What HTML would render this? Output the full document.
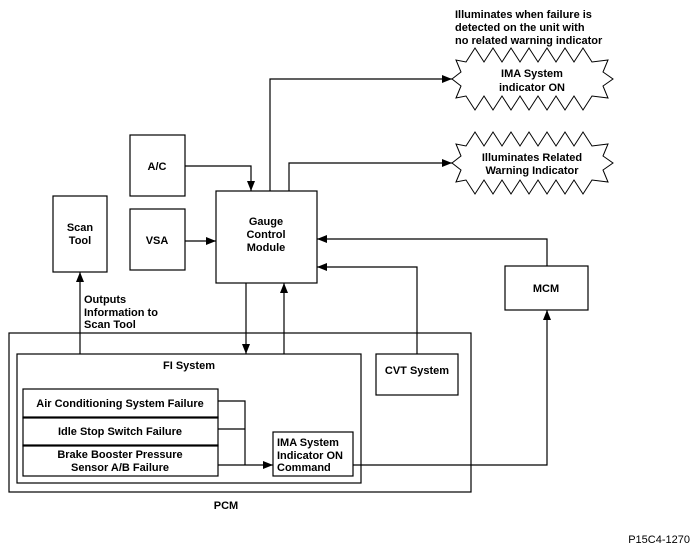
<!DOCTYPE html>
<html><head><meta charset="utf-8"><style>
body{margin:0;background:#fff}
svg{display:block}
text{font-family:"Liberation Sans",Arial,sans-serif;font-size:11px;font-weight:bold;fill:#000}
</style></head><body>
<svg width="697" height="555" viewBox="0 0 697 555" xmlns="http://www.w3.org/2000/svg">
<defs>
<marker id="a" markerWidth="10" markerHeight="8" refX="10" refY="4" orient="auto" markerUnits="userSpaceOnUse">
<path d="M0,0 L10,4 L0,8 Z" fill="#000"/></marker>
<polygon id="burst" points="466,62 475,48 484,62 493,48 502,62 511,48 520,62 529,48 538,62 547,48 556,62 565,48 574,62 583,48 592,62 608,60 603,72 613,79 603,86 608,98 592,96 583,110 574,96 565,110 556,96 547,110 538,96 529,110 520,96 511,110 502,96 493,110 484,96 475,110 466,96 456,98 461,86 452,79 461,72 456,60" fill="#fff" stroke="#000" stroke-width="1"/>
</defs>
<text x="455" y="18">Illuminates when failure is</text>
<text x="455" y="31">detected on the unit with</text>
<text x="455" y="44">no related warning indicator</text>
<use href="#burst"/>
<use href="#burst" transform="translate(0,84)"/>
<text x="532" y="77" text-anchor="middle">IMA System</text>
<text x="532" y="91" text-anchor="middle">indicator ON</text>
<text x="532" y="161" text-anchor="middle">Illuminates Related</text>
<text x="532" y="174" text-anchor="middle">Warning Indicator</text>
<g fill="none" stroke="#000" stroke-width="1.2">
<rect x="130" y="135" width="55" height="61"/>
<rect x="130" y="209" width="55" height="61"/>
<rect x="53" y="196" width="54" height="76"/>
<rect x="216" y="191" width="101" height="92"/>
<rect x="505" y="266" width="83" height="44"/>
<rect x="9" y="333" width="462" height="159"/>
<rect x="17" y="354" width="344" height="129"/>
<rect x="376" y="354" width="82" height="41"/>
<rect x="23" y="389" width="195" height="29"/>
<rect x="23" y="417" width="195" height="29"/>
<rect x="23" y="445" width="195" height="31"/>
<rect x="273" y="432" width="80" height="44"/>
<polyline points="270,191 270,79 452,79" marker-end="url(#a)"/>
<polyline points="289,191 289,163 452,163" marker-end="url(#a)"/>
<polyline points="185,166 251,166 251,191" marker-end="url(#a)"/>
<line x1="185" y1="241" x2="216" y2="241" marker-end="url(#a)"/>
<polyline points="547,266 547,239 317,239" marker-end="url(#a)"/>
<polyline points="417,354 417,267 317,267" marker-end="url(#a)"/>
<line x1="246" y1="283" x2="246" y2="354" marker-end="url(#a)"/>
<line x1="284" y1="354" x2="284" y2="283" marker-end="url(#a)"/>
<line x1="80" y1="354" x2="80" y2="272" marker-end="url(#a)"/>
<polyline points="353,465 547,465 547,310" marker-end="url(#a)"/>
<polyline points="218,401 245,401 245,465"/>
<line x1="218" y1="429" x2="245" y2="429"/>
<line x1="218" y1="465" x2="273" y2="465" marker-end="url(#a)"/>
</g>
<text x="157" y="170" text-anchor="middle">A/C</text>
<text x="157" y="244" text-anchor="middle">VSA</text>
<text x="80" y="231" text-anchor="middle">Scan</text>
<text x="80" y="244" text-anchor="middle">Tool</text>
<text x="266" y="225" text-anchor="middle">Gauge</text>
<text x="266" y="238" text-anchor="middle">Control</text>
<text x="266" y="251" text-anchor="middle">Module</text>
<text x="546" y="292" text-anchor="middle">MCM</text>
<text x="84" y="303">Outputs</text>
<text x="84" y="316">Information to</text>
<text x="84" y="328">Scan Tool</text>
<text x="189" y="369" text-anchor="middle">FI System</text>
<text x="417" y="374" text-anchor="middle">CVT System</text>
<text x="120" y="407" text-anchor="middle">Air Conditioning System Failure</text>
<text x="120" y="435" text-anchor="middle">Idle Stop Switch Failure</text>
<text x="120" y="458" text-anchor="middle">Brake Booster Pressure</text>
<text x="120" y="471" text-anchor="middle">Sensor A/B Failure</text>
<text x="277" y="446">IMA System</text>
<text x="277" y="459">Indicator ON</text>
<text x="277" y="471">Command</text>
<text x="226" y="509" text-anchor="middle">PCM</text>
<text x="690" y="543" text-anchor="end" style="font-weight:normal;font-size:11px">P15C4-1270</text>
</svg>
</body></html>
